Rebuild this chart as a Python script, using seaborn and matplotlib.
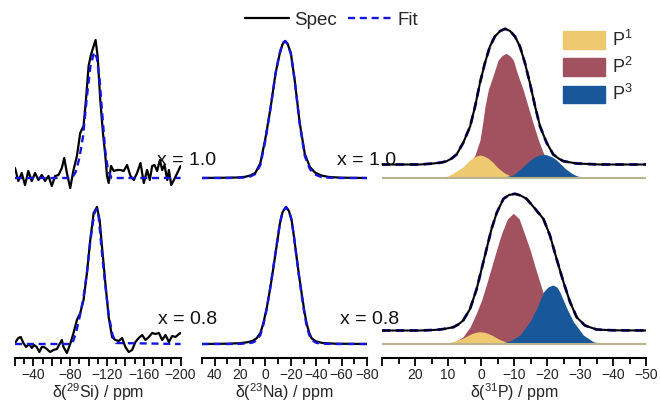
import numpy as np
import matplotlib
matplotlib.use('Agg')
import matplotlib.pyplot as plt
import matplotlib.patches as mpatches
from matplotlib.lines import Line2D
from matplotlib.ticker import MultipleLocator, FuncFormatter
import seaborn as sns

sns.set_theme(style='white')
plt.rcParams['font.family'] = ['Liberation Sans', 'DejaVu Sans']
plt.rcParams['mathtext.fontset'] = 'custom'
plt.rcParams['mathtext.rm'] = 'Liberation Sans'

#%% data (intensities, arbitrary units)
# 29Si, x = 1.0
si_ppm_10 = [-20.0, -23.6, -27.3, -30.9, -34.5, -38.2, -41.8, -45.5, -49.1, -52.7, -56.4, -60.0, -63.6, -67.3,
             -70.9, -73.5, -76.4, -80.0, -83.6, -87.3, -90.9, -94.5, -97.1, -100.0, -102.5, -105.5, -107.6,
             -109.8, -112.7, -115.6, -118.2, -120.0, -121.8, -124.4, -127.3, -130.9, -134.5, -138.2, -141.8,
             -145.5, -149.1, -152.7, -156.4, -160.0, -163.6, -166.5, -169.1, -171.6, -174.5, -177.5, -180.0,
             -182.5, -185.5, -187.3, -189.8, -192.7, -196.4, -200.0]
si_spec_10 = [10, -3, 5, -7, 7, -3, 5, -2, 3, -3, 2, -8, 2, 3, 10, 20, 5, -10, 8, 22, 45, 52, 78, 112, 123, 132, 138,
              122, 78, 45, 22, 2, -5, 12, 7, 8, 8, 7, 13, 2, -2, 5, 15, -5, 8, -2, 12, 13, 7, 18, 8, 13, -2, 8, -7,
              -2, 5, 12]
si_fit_ppm_10 = [-20, -82, -86, -90, -94, -98, -102, -106, -109, -112, -115, -118, -121, -125, -200]
si_fit_10 = [0, 0, 6, 20, 42, 80, 112, 126, 120, 98, 62, 28, 8, 0, 0]

# 29Si, x = 0.8
si_ppm_08 = [-20.0, -23.6, -26.2, -29.1, -32.0, -35.6, -38.2, -40.7, -43.6, -46.5, -49.1, -51.6, -54.5, -58.2,
             -61.8, -65.5, -69.1, -70.9, -72.7, -76.4, -80.0, -83.6, -87.3, -90.9, -94.5, -98.2, -101.8, -105.5,
             -109.1, -112.0, -114.9, -118.2, -121.8, -125.5, -129.1, -132.7, -136.4, -140.0, -143.6, -147.3,
             -150.9, -154.5, -158.2, -161.8, -165.5, -169.1, -172.7, -176.4, -180.0, -183.6, -187.3, -190.9,
             -194.5, -198.2, -200.0]
si_spec_08 = [1, 6, 7, 1, -3, 0, -4, -1, -3, -8, -3, -3, -5, -8, -6, -5, 1, 4, -3, -9, 0, 11, 24, 31, 44, 71, 104,
              131, 137, 124, 94, 61, 27, 7, 4, 3, 6, -3, -8, -6, 2, 6, 9, 4, 7, 11, 10, 11, 4, 9, 2, 8, 7, 10, 11]
si_fit_ppm_08 = [-20, -82, -86, -90, -94, -98, -102, -106, -108.5, -111, -114, -118, -122, -126, -130, -200]
si_fit_08 = [0, 0, 10, 26, 44, 70, 104, 130, 135, 127, 96, 60, 28, 9, 1, 0]

# 23Na
na_ppm_10 = [50, 30, 22, 16, 12, 8, 4, 0, -4, -8, -11, -13.5, -15.5, -17.5, -20, -23, -27, -31, -35, -39, -44,
             -50, -60, -80]
na_spec_10 = [0, 0.3, 0.5, 1.2, 2.5, 5, 15, 40, 70, 105, 123, 134, 137, 134, 125, 98, 55, 24, 11, 5.5, 2.5, 1,
              0.3, 0]
na_fit_10 = [0, 0, 0.2, 0.5, 1.5, 4, 13, 38, 70, 105, 124, 135, 137, 134, 124, 98, 54, 22, 9, 3.5, 1, 0.3, 0, 0]

na_ppm_08 = [50, 30, 20, 14, 10, 7, 4, 1.7, -1, -3.5, -5.5, -7.5, -9.5, -11.4, -13.5, -16.2, -18.5, -20.6,
             -22.5, -24.5, -26.5, -28.5, -30.5, -32.4, -34.5, -36.4, -40, -45, -55, -80]
na_spec_08 = [0, 0.3, 0.8, 1.8, 3.2, 5.7, 11, 20.7, 36, 54, 70, 87, 104, 120.7, 132, 137, 133, 124, 107, 87, 68,
              50.7, 34, 20.7, 11, 5.7, 2.5, 1, 0.3, 0]
na_fit_08 = [0, 0, 0.2, 0.6, 1.5, 3.5, 9, 19, 35, 54, 71, 88, 105, 121, 132, 137, 133, 124, 107, 87, 67, 49, 32,
             18.5, 9, 4, 1.2, 0.3, 0, 0]

# 31P, x = 1.0
p_ppm_10 = [30, 18.5, 14.5, 12, 10.4, 8.9, 7.4, 5.4, 3.3, 1.8, 0.3, -1.2, -2.7, -4.2, -5.8, -7.3, -8.8, -10.3,
            -11.8, -13.3, -14.8, -16.4, -17.9, -19.9, -21.9, -23.5, -25, -29, -36, -50]
p_spec_10 = [0, 0, 1, 2, 3.3, 6, 10, 21.7, 38, 58, 81.7, 101.7, 118, 128, 133.5, 135.7, 133.5, 128, 118, 101.7,
             81.7, 58, 38, 21.7, 10, 6, 3.3, 1, 0, 0]
p_fit_10 = p_spec_10
p1_ppm_10 = [12.4, 10, 8.5, 7, 5.4, 4, 2.8, 1.5, 0.3, -0.9, -2.2, -3.5, -4.8, -6, -7.3, -9, -10.8, -13]
p1_10 = [0, 2, 4.7, 7.8, 11.3, 16, 19.7, 22, 23, 22, 19.7, 16, 11.3, 7.8, 4.7, 2, 0.7, 0]
p2_ppm_10 = [12, 9, 6, 4, 1.8, 0.3, -0.5, -1.2, -2.2, -3.9, -5.2, -6.4, -7.6, -8.8, -9.8, -11, -12.8, -14.3,
             -15.8, -17.4, -18.9, -20.5, -22.5, -26]
p2_10 = [0, 1.5, 5, 12, 23, 38, 54.7, 71.3, 88, 104.7, 118, 122.5, 124.7, 122, 118, 104.7, 88, 71.3, 54.7, 38,
         25, 12, 5, 0]
p3_ppm_10 = [-6, -9.8, -12, -13.8, -15.2, -16.4, -17.7, -18.9, -20.1, -21.4, -22.7, -23.9, -25.7, -27.5, -29,
             -31, -33]
p3_10 = [0.3, 3, 9, 14.7, 18.5, 21.3, 23, 23.7, 23, 21.3, 18.5, 14.7, 9, 4.7, 2.2, 0.7, 0]

# 31P, x = 0.8
p_ppm_08 = [30, 18.5, 14.5, 12.4, 10.4, 8.4, 6.9, 5.4, 3.3, 1.3, -0.2, -1.7, -3.2, -4.8, -6.8, -8.5, -10.3, -12,
            -13.8, -16.4, -18.9, -20.9, -22.9, -25, -27, -29, -31.5, -35, -40, -50]
p_spec_08 = [0, 0, 0.5, 1, 2, 3.3, 6, 10, 21.7, 41.7, 61.7, 81.7, 101.7, 118, 131.7, 135.5, 136.7, 135, 131.7,
             121.7, 111.7, 95, 71.7, 48.3, 28.3, 13.3, 5, 1, 0.2, 0]
p_fit_08 = p_spec_08
p1_ppm_08 = [12, 10, 8.5, 7, 5.4, 4, 2.8, 1.5, 0.3, -0.9, -2.2, -3.5, -4.8, -6, -7.3, -9, -10.8, -13]
p1_08 = [0, 1, 2.5, 4, 6, 8.5, 10.5, 11.8, 12.3, 11.8, 10.5, 8.5, 6, 4, 2.5, 1, 0.3, 0]
p2_ppm_08 = [12, 8, 5.5, 3.3, 1.5, -0.2, -1.7, -3.2, -4.8, -6.3, -8, -9.8, -11.6, -13.3, -15, -16.4, -18, -19.5,
             -21, -23, -26, -30]
p2_08 = [0, 2, 7, 17, 30, 44, 60, 77, 95, 111, 125, 130.7, 125, 109, 93, 77, 60, 44, 30, 15, 4, 0]
p3_ppm_08 = [-5.8, -8.8, -11.8, -14.8, -16.9, -18.9, -20.3, -21.7, -23, -23.9, -26, -28, -31, -34, -37]
p3_08 = [0.7, 3, 9, 22.3, 35.7, 52, 57, 59, 57, 52, 35.7, 22.3, 9, 2.3, 0]

labels_x = ['x = 1.0', 'x = 0.8']
p_names = ['P$^{\\mathregular{1}}$', 'P$^{\\mathregular{2}}$', 'P$^{\\mathregular{3}}$']
p_colors = ['#EEC970', '#A2525F', '#17579A']

#%% figure
W, H = 660, 405
base = 14          # baseline height inside each panel
p_shift = 13.5     # spectrum lifted above the components in the P panels
spec_col = 'black'
fit_col = '#1515E0'

fig = plt.figure(figsize=(6.6, 4.05), dpi=100)

def make_ax(x0, x1, ybot, xlim):
    ax = fig.add_axes([x0 / W, 1 - ybot / H, (x1 - x0) / W, 168 / H])
    ax.set_xlim(*xlim)
    ax.set_ylim(0, 168)
    for s in ax.spines.values():
        s.set_visible(False)
    ax.set_yticks([])
    ax.set_facecolor('none')
    return ax

def line(ax, x, y, shift, **kw):
    sns.lineplot(x=x, y=np.array(y, dtype=float) + shift, ax=ax, sort=False, estimator=None,
                 legend=False, **kw)

def fmt_every(step, vmax):
    def f(v, p):
        if abs(round(v) % step) > 0 or v > vmax:
            return ''
        return f'{v:.0f}'.replace('-', '\u2212')
    return FuncFormatter(f)

cols = [(15, 180.6, (-20, -200), 20, 10, 40, 0, r'δ($^{\mathregular{29}}$Si) / ppm'),
        (202, 367, (50, -80), 20, 10, 20, 45, r'δ($^{\mathregular{23}}$Na) / ppm'),
        (382, 646, (30, -50), 10, 5, 10, 25, r'δ($^{\mathregular{31}}$P) / ppm')]
rows = [192, 358]

si_data = [(si_ppm_10, si_spec_10, si_fit_ppm_10, si_fit_10), (si_ppm_08, si_spec_08, si_fit_ppm_08, si_fit_08)]
na_data = [(na_ppm_10, na_spec_10, na_ppm_10, na_fit_10), (na_ppm_08, na_spec_08, na_ppm_08, na_fit_08)]
p_data = [(p_ppm_10, p_spec_10, p_fit_10, [(p1_ppm_10, p1_10), (p2_ppm_10, p2_10), (p3_ppm_10, p3_10)]),
          (p_ppm_08, p_spec_08, p_fit_08, [(p1_ppm_08, p1_08), (p2_ppm_08, p2_08), (p3_ppm_08, p3_08)])]

for r, ybot in enumerate(rows):
    axes = [make_ax(c[0], c[1], ybot, c[2]) for c in cols]
    # Si and Na
    for ax, d in zip(axes[:2], [si_data[r], na_data[r]]):
        line(ax, d[0], d[1], base, color=spec_col, lw=1.6, zorder=3)
        line(ax, d[2], d[3], base, color=fit_col, lw=1.7, linestyle=(0, (3, 2)), zorder=4)
    # P with components
    ax = axes[2]
    ppm, spec, fit, comps = p_data[r]
    order = [1, 0, 2]
    for k in order:
        cx, cy = comps[k]
        ax.fill_between(cx, base, np.array(cy) + base, color=p_colors[k], lw=0, zorder=1 + order.index(k))
    ax.axhline(base, color='#B9B38E', lw=1.5, zorder=5)
    line(ax, ppm, fit, base + p_shift, color=fit_col, lw=2.0, linestyle=(0, (3, 2)), zorder=6)
    line(ax, ppm, spec, base + p_shift, color=spec_col, lw=1.5, zorder=7)

    if r == 1:
        for ax, c in zip(axes, cols):
            ax.spines['bottom'].set_visible(True)
            ax.spines['bottom'].set_color('black')
            ax.spines['bottom'].set_linewidth(1.5)
            ax.xaxis.set_major_locator(MultipleLocator(c[3]))
            ax.xaxis.set_minor_locator(MultipleLocator(c[4]))
            ax.xaxis.set_major_formatter(fmt_every(c[5], c[6]))
            ax.tick_params(axis='x', which='both', direction='out', bottom=True, colors='black',
                           labelsize=10, pad=1.5, width=1.3, labelcolor='#222222')
            ax.tick_params(axis='x', which='major', length=6)
            ax.tick_params(axis='x', which='minor', length=4)
            ax.set_xlabel(c[7], fontsize=11.5, color='#222222', labelpad=-1)
    else:
        for ax in axes:
            ax.set_xticks([])

# x labels between panels
fig.text(157 / W, 1 - 165 / H, labels_x[0], fontsize=14, ha='left', va='baseline', color='#111111')
fig.text(337 / W, 1 - 165 / H, labels_x[0], fontsize=14, ha='left', va='baseline', color='#111111')
fig.text(158 / W, 1 - 324 / H, labels_x[1], fontsize=14, ha='left', va='baseline', color='#111111')
fig.text(340 / W, 1 - 324 / H, labels_x[1], fontsize=14, ha='left', va='baseline', color='#111111')

# top legend
handles = [Line2D([], [], color=spec_col, lw=1.6),
           Line2D([], [], color=fit_col, lw=1.7, linestyle=(0, (3, 2)))]
fig.legend(handles, ['Spec', 'Fit'], loc='center', bbox_to_anchor=(0.502, 1 - 20 / H), ncol=2,
           frameon=False, fontsize=13.5, handlelength=2.35, columnspacing=0.55, handletextpad=0.3,
           borderpad=0, borderaxespad=0)

# component legend
patches = [mpatches.Patch(color=c) for c in p_colors]
fig.legend(patches, p_names, loc='upper left', bbox_to_anchor=(562.7 / W, 1 - 30 / H), frameon=False,
           fontsize=13, handlelength=2.34, handleheight=1.11, labelspacing=0.39, handletextpad=0.39,
           borderpad=0, borderaxespad=0)

fig.savefig('out.png', dpi=100)
